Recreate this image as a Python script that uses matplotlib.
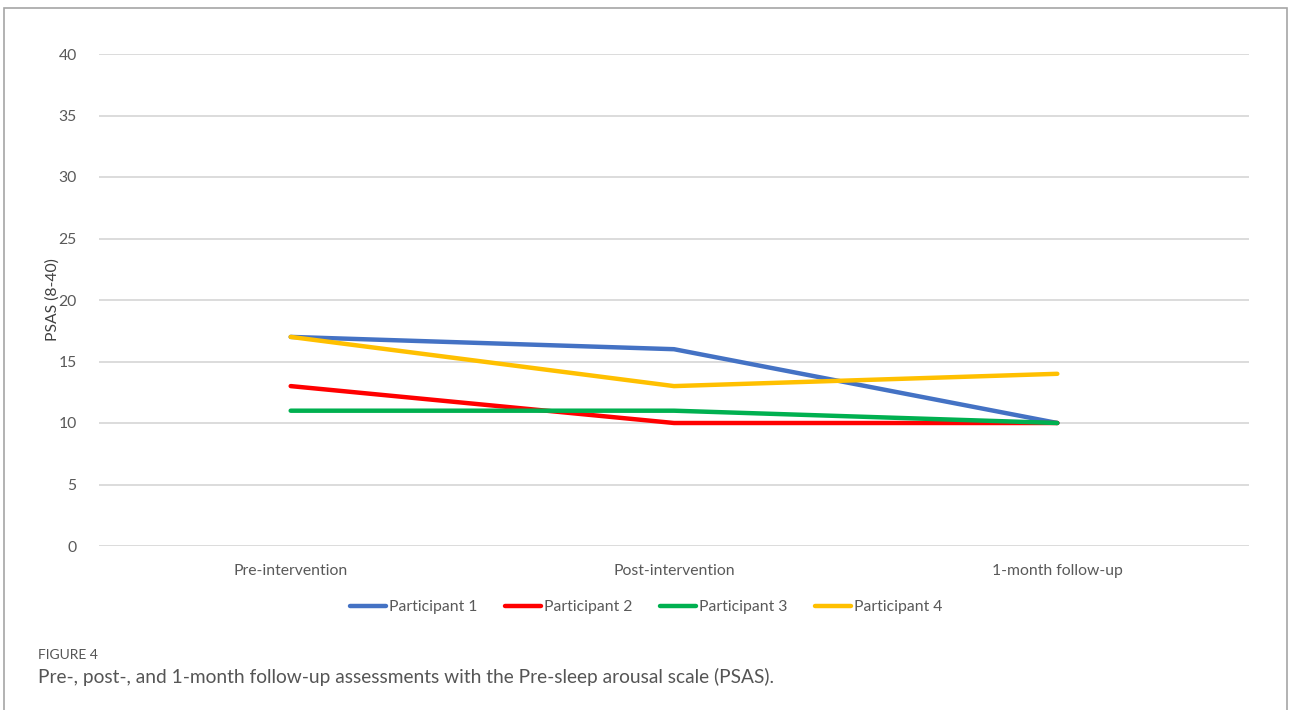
import matplotlib.pyplot as plt
from matplotlib.patches import Rectangle

plt.rcParams['font.family'] = ['Lato', 'DejaVu Sans']

# PSAS scores per assessment
timepoints = ["Pre-intervention", "Post-intervention", "1-month follow-up"]
participant_1 = [17, 16, 10]
participant_2 = [13, 10, 10]
participant_3 = [11, 11, 10]
participant_4 = [17, 13, 14]
y_ticks = [0, 5, 10, 15, 20, 25, 30, 35, 40]

series = [
    ("Participant 1", participant_1, "#4472C4"),
    ("Participant 2", participant_2, "#FF0000"),
    ("Participant 3", participant_3, "#00B050"),
    ("Participant 4", participant_4, "#FFC000"),
]

fig = plt.figure(figsize=(12.9, 7.1), dpi=100)

# outer frame around the figure panel
fig.patches.append(Rectangle((4 / 1290, -0.05), 1283 / 1290, 1.05 - 8 / 710,
                             transform=fig.transFigure, fill=False,
                             edgecolor="#A6A6A6", linewidth=1.2))

ax = fig.add_axes([99 / 1290, 1 - 546 / 710, 1150 / 1290, 492 / 710])

x = list(range(len(timepoints)))
for name, vals, col in series:
    ax.plot(x, vals, color=col, linewidth=3.2, label=name, solid_capstyle="round")

ax.set_xlim(-0.5, 2.5)
ax.set_ylim(0, 40)
ax.set_yticks(y_ticks)
ax.set_xticks(x)
ax.set_xticklabels(timepoints)
ax.yaxis.grid(True, color="#D9D9D9", linewidth=1.3)
ax.set_axisbelow(True)
for s in ax.spines.values():
    s.set_visible(False)
ax.tick_params(length=0, labelsize=11.3, labelcolor="#595959")
ax.tick_params(axis="y", pad=16)
ax.tick_params(axis="x", pad=13)
ax.set_ylabel("PSAS (8-40)", fontsize=11.3, color="#404040", labelpad=-0.5)

ax.legend(loc="upper center", bbox_to_anchor=(0.476, -0.082), ncol=4,
          frameon=False, fontsize=11.3, handlelength=2.3, handletextpad=0.2,
          columnspacing=1.75, labelcolor="#595959")

fig.text(38 / 1290, 1 - 655 / 710, "FIGURE 4", fontsize=10, color="#555555",
         va="center")
fig.text(38 / 1290, 1 - 677 / 710,
         "Pre-, post-, and 1-month follow-up assessments with the Pre-sleep arousal scale (PSAS).",
         fontsize=13.8, color="#555555", va="center")

fig.savefig("out.png", dpi=100, facecolor="white")
